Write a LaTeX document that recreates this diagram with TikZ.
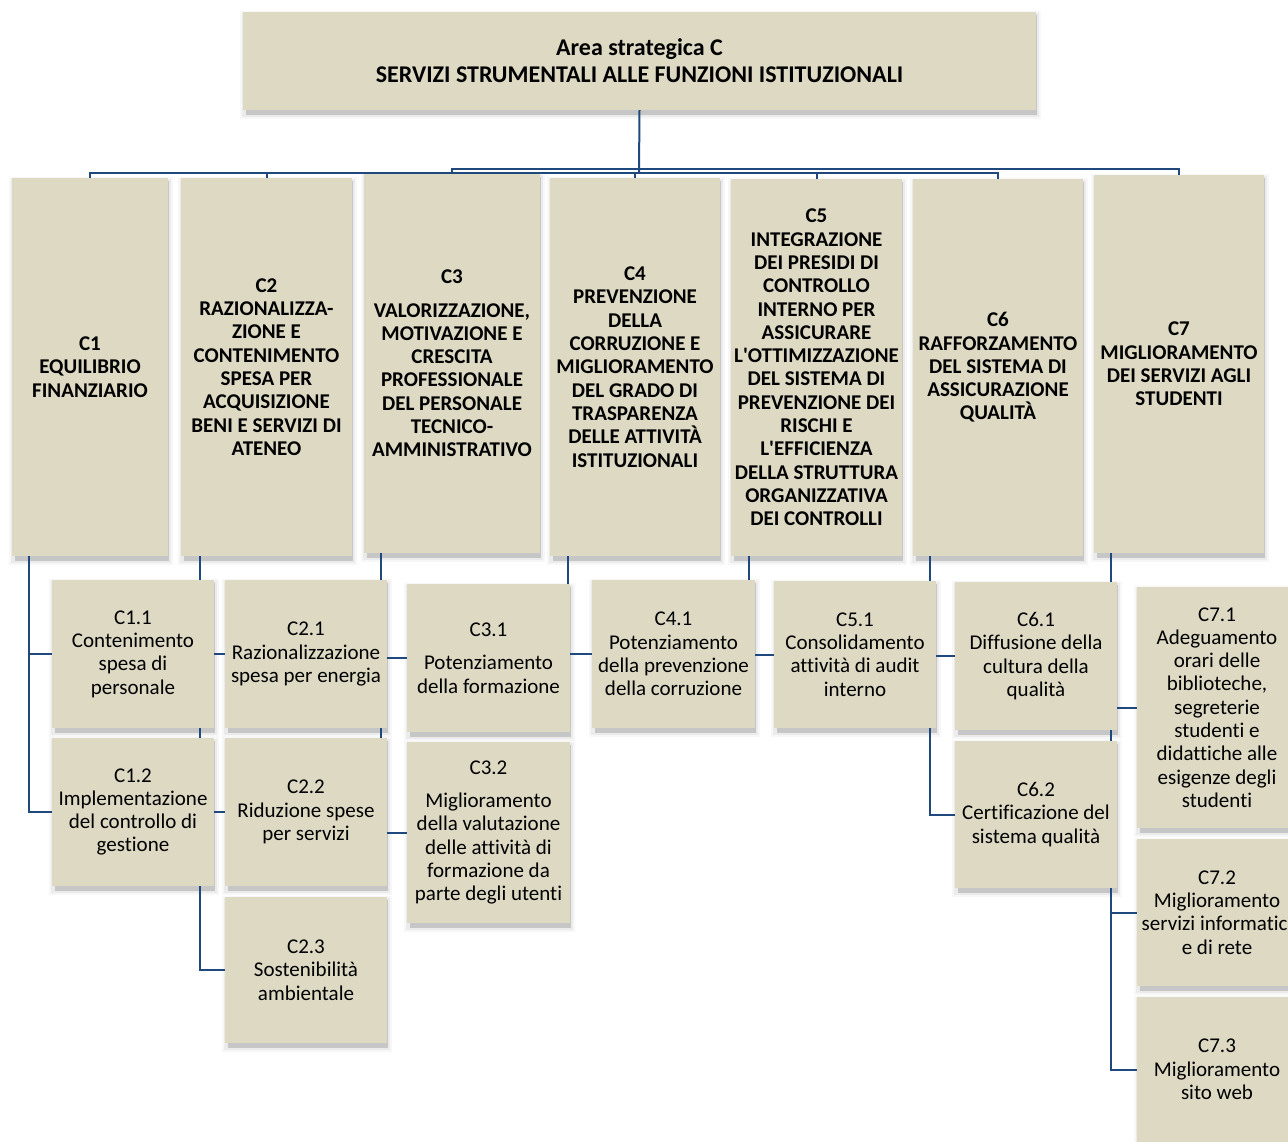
\documentclass[tikz,border=0pt]{standalone}
\usepackage{fontspec}
\setmainfont{Carlito}[Ligatures=CommonOff]
\usetikzlibrary{calc}
\definecolor{boxfill}{RGB}{221,217,195}
\definecolor{linec}{RGB}{31,73,125}
\pgfdeclarelayer{bglayer}
\pgfdeclarelayer{shadowlayer}
\pgfdeclarelayer{linelayer}
\pgfsetlayers{bglayer,shadowlayer,linelayer,main}
\newcommand\bbox[7]{%
  \node[#6, minimum width={(#4-#2)*1pt}, minimum height={(#5-#3)*1pt}] (#1) at ({(#2+#4)/2},{(#3+#5)/2}) {#7};
  \begin{pgfonlayer}{shadowlayer}
    \fill[gray!6] (#2-3,#3-1) rectangle (#4+5,#5+9);
    \fill[gray!16] (#2-1,#3+1) rectangle (#4+3,#5+7);
    \fill[gray!45] (#2+3,#3+3) rectangle (#4+1,#5+5);
  \end{pgfonlayer}}
\tikzset{
  basebox/.style={fill=boxfill, align=center, inner sep=0pt, outer sep=0pt, text=black},
  topbox/.style={basebox, font=\bfseries\fontsize{24}{27}\selectfont},
  lone/.style={basebox, font=\bfseries\fontsize{21}{23.3}\selectfont},
  ltwo/.style={basebox, font=\fontsize{21}{23.3}\selectfont},
  conn/.style={draw=linec, line width=2pt},
}
\begin{document}
\begin{tikzpicture}[x=1pt,y=-1pt]
\useasboundingbox (0,0) rectangle (1288,1142);
\clip (0,0) rectangle (1288,1142);
\begin{pgfonlayer}{bglayer}
\fill[white] (0,0) rectangle (1288,1142);
\end{pgfonlayer}

\bbox{top}{243}{12}{1036}{110}{topbox}{Area strategica C\\SERVIZI STRUMENTALI ALLE FUNZIONI ISTITUZIONALI}

\bbox{c1}{12}{178}{168}{556}{lone}{C1\\EQUILIBRIO\\FINANZIARIO}
\bbox{c2}{181}{178}{352}{556}{lone}{C2\\RAZIONALIZZA-\\ZIONE E\\CONTENIMENTO\\SPESA PER\\ACQUISIZIONE\\BENI E SERVIZI DI\\ATENEO}
\bbox{c3}{364}{174}{540}{553}{lone}{C3\\[10pt]VALORIZZAZIONE,\\MOTIVAZIONE E\\CRESCITA\\PROFESSIONALE\\DEL PERSONALE\\TECNICO-\\AMMINISTRATIVO}
\bbox{c4}{550}{178}{720}{556}{lone}{C4\\PREVENZIONE\\DELLA\\CORRUZIONE E\\MIGLIORAMENTO\\DEL GRADO DI\\TRASPARENZA\\DELLE ATTIVITÀ\\ISTITUZIONALI}
\bbox{c5}{731}{179}{902}{556}{lone}{C5\\INTEGRAZIONE\\DEI PRESIDI DI\\CONTROLLO\\INTERNO PER\\ASSICURARE\\L\textquotesingle OTTIMIZZAZIONE\\DEL SISTEMA DI\\PREVENZIONE DEI\\RISCHI E\\L\textquotesingle EFFICIENZA\\DELLA STRUTTURA\\ORGANIZZATIVA\\DEI CONTROLLI}
\bbox{c6}{913}{179}{1083}{556}{lone}{C6\\RAFFORZAMENTO\\DEL SISTEMA DI\\ASSICURAZIONE\\QUALITÀ}
\bbox{c7}{1094}{175}{1264}{553}{lone}{C7\\MIGLIORAMENTO\\DEI SERVIZI AGLI\\STUDENTI}

\bbox{c11}{52}{580}{214}{728}{ltwo}{C1.1\\Contenimento\\spesa di\\personale}
\bbox{c12}{52}{738}{214}{886}{ltwo}{C1.2\\Implementazione\\del controllo di\\gestione}
\bbox{c21}{225}{580}{387}{728}{ltwo}{C2.1\\Razionalizzazione\\spesa per energia}
\bbox{c22}{225}{738}{387}{886}{ltwo}{C2.2\\Riduzione spese\\per servizi}
\bbox{c23}{225}{897}{387}{1043}{ltwo}{C2.3\\Sostenibilità\\ambientale}
\bbox{c31}{407}{584}{570}{732}{ltwo}{C3.1\\[10pt]Potenziamento\\della formazione}
\bbox{c32}{407}{742}{570}{923}{ltwo}{C3.2\\[10pt]Miglioramento\\della valutazione\\delle attività di\\formazione da\\parte degli utenti}
\bbox{c41}{592}{580}{755}{728}{ltwo}{C4.1\\Potenziamento\\della prevenzione\\della corruzione}
\bbox{c51}{774}{581}{936}{728}{ltwo}{C5.1\\Consolidamento\\attività di audit\\interno}
\bbox{c61}{955}{582}{1117}{730}{ltwo}{C6.1\\Diffusione della\\cultura della\\qualità}
\bbox{c62}{955}{741}{1117}{888}{ltwo}{C6.2\\Certificazione del\\sistema qualità}
\bbox{c71}{1137}{587}{1297}{828}{ltwo}{C7.1\\Adeguamento\\orari delle\\biblioteche,\\segreterie\\studenti e\\didattiche alle\\esigenze degli\\studenti}
\bbox{c72}{1137}{839}{1297}{986}{ltwo}{C7.2\\Miglioramento\\servizi informatici\\e di rete}
\bbox{c73}{1137}{997}{1297}{1142}{ltwo}{C7.3\\Miglioramento\\sito web}

\coordinate (busB) at (639,173);
\coordinate (busA) at (639,169);

\begin{pgfonlayer}{linelayer}
  \draw[conn] (top.south) -- (busB);
  \draw[conn] (c1.north) |- (c6.north |- busB) -- (c6.north);
  \draw[conn] (c2.north) -- (c2.north |- busB);
  \draw[conn] (c4.north) -- (c4.north |- busB);
  \draw[conn] (c5.north) -- (c5.north |- busB);
  \draw[conn] (c3.north) |- (c7.north |- busA) -- (c7.north);

  \draw[conn] ([xshift=17pt]c1.south west) |- (c11.west);
  \draw[conn] ([xshift=17pt]c1.south west) |- (c12.west);
  \draw[conn] ([xshift=19pt]c2.south west) |- (c21.west);
  \draw[conn] ([xshift=19pt]c2.south west) |- (c22.west);
  \draw[conn] ([xshift=19pt]c2.south west) |- (c23.west);
  \draw[conn] ([xshift=17pt]c3.south west) |- (c31.west);
  \draw[conn] ([xshift=17pt]c3.south west) |- (c32.west);
  \draw[conn] ([xshift=18pt]c4.south west) |- (c41.west);
  \draw[conn] ([xshift=18pt]c5.south west) |- (c51.west);
  \draw[conn] ([xshift=17pt]c6.south west) |- (c61.west);
  \draw[conn] ([xshift=17pt]c6.south west) |- (c62.west);
  \draw[conn] ([xshift=17pt]c7.south west) |- (c71.west);
  \draw[conn] ([xshift=17pt]c7.south west) |- (c72.west);
  \draw[conn] ([xshift=17pt]c7.south west) |- (c73.west);
\end{pgfonlayer}
\end{tikzpicture}
\end{document}
